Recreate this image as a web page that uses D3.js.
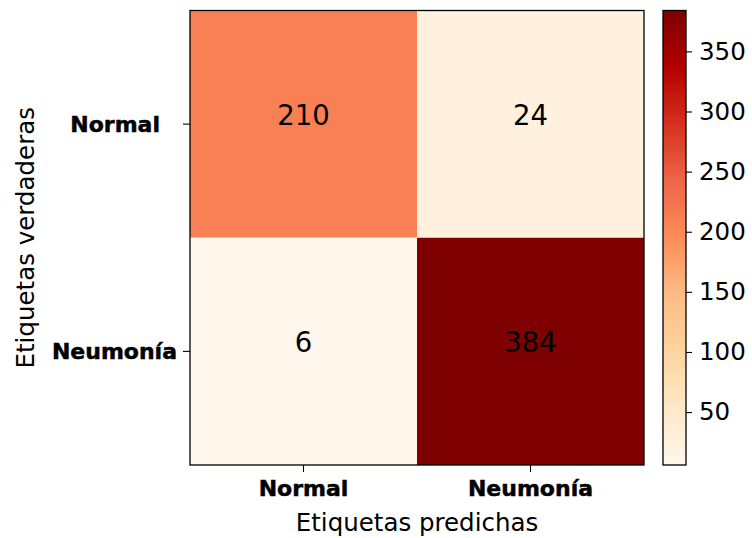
<!DOCTYPE html>
<html>
<head>
<meta charset="utf-8">
<script src="https://cdn.jsdelivr.net/npm/d3@7"></script>
<style>
  body { margin: 0; background: #fff; }
  text { font-family: "DejaVu Sans", sans-serif; fill: #000; }
</style>
</head>
<body>
<svg id="chart" width="752" height="538"></svg>
<script>
// Confusion matrix: rows = true class, columns = predicted class
const trueLabels = ["Normal", "Neumonía"];
const predLabels = ["Normal", "Neumonía"];
const counts = [
  [210, 24],
  [6, 384]
];
const colorbarTicks = [50, 100, 150, 200, 250, 300, 350];
// OrRd colour ramp (9 steps)
const orrd = ["#fff7ec", "#fee8c8", "#fdd49e", "#fdbb84", "#fc8d59",
              "#ef6548", "#d7301f", "#b30000", "#7f0000"];

const svg = d3.select("#chart");

const plot = { left: 190, right: 644, top: 10.5, bottom: 465 };
const bar = { left: 663, right: 686 };

const flat = counts.flat();
const vmin = d3.min(flat), vmax = d3.max(flat);

const color = d3.scaleLinear()
  .domain(orrd.map((_, i) => vmin + i * (vmax - vmin) / (orrd.length - 1)))
  .range(orrd)
  .interpolate(d3.interpolateRgb);

const x = d3.scaleBand().domain(predLabels).range([plot.left, plot.right]);
const y = d3.scaleBand().domain(trueLabels).range([plot.top, plot.bottom]);

const cells = [];
trueLabels.forEach((t, i) => predLabels.forEach((p, j) => cells.push({ t, p, v: counts[i][j] })));

// heatmap cells
svg.append("g").selectAll("rect").data(cells).join("rect")
  .attr("x", d => x(d.p))
  .attr("y", d => y(d.t))
  .attr("width", x.bandwidth())
  .attr("height", y.bandwidth())
  .attr("fill", d => color(d.v));

// cell values
svg.append("g").selectAll("text").data(cells).join("text")
  .attr("x", d => x(d.p) + x.bandwidth() / 2)
  .attr("y", d => y(d.t) + y.bandwidth() / 2 + 0.5)
  .attr("text-anchor", "middle")
  .style("font-size", "27.5px")
  .text(d => d.v);

// frame
svg.append("rect")
  .attr("x", plot.left).attr("y", plot.top)
  .attr("width", plot.right - plot.left).attr("height", plot.bottom - plot.top)
  .attr("fill", "none").attr("stroke", "#000").attr("stroke-width", 1.3);

// axes
const xAxis = svg.append("g")
  .attr("transform", `translate(0,${plot.bottom})`)
  .call(d3.axisBottom(x).tickSize(7).tickPadding(8));
const yAxis = svg.append("g")
  .attr("transform", `translate(${plot.left},0)`)
  .call(d3.axisLeft(y).tickSize(7).tickPadding(6));

[xAxis, yAxis].forEach(a => {
  a.select(".domain").remove();
  a.selectAll(".tick line").attr("stroke", "#000").attr("stroke-width", 1.1);
  a.selectAll(".tick text")
    .style("font-size", "22px")
    .style("font-weight", "bold")
    .attr("fill", "#000")
    .attr("stroke", "#000")
    .attr("stroke-width", 0.5);
});
yAxis.selectAll(".tick text").attr("dy", "0.36em");
yAxis.selectAll(".tick").filter(d => d === "Normal").select("text").attr("dx", -17);

// axis titles
svg.append("text")
  .attr("x", (plot.left + plot.right) / 2)
  .attr("y", 531)
  .attr("text-anchor", "middle")
  .style("font-size", "24.5px")
  .text("Etiquetas predichas");

svg.append("text")
  .attr("transform", `translate(34,${(plot.top + plot.bottom) / 2}) rotate(-90)`)
  .attr("text-anchor", "middle")
  .style("font-size", "24.5px")
  .text("Etiquetas verdaderas");

// colour bar
const defs = svg.append("defs");
const grad = defs.append("linearGradient")
  .attr("id", "cbar-grad")
  .attr("x1", 0).attr("y1", 1).attr("x2", 0).attr("y2", 0);
grad.selectAll("stop").data(orrd).join("stop")
  .attr("offset", (_, i) => i / (orrd.length - 1))
  .attr("stop-color", d => d);

const cy = d3.scaleLinear().domain([vmin, vmax]).range([plot.bottom, plot.top]);

svg.append("rect")
  .attr("x", bar.left).attr("y", plot.top)
  .attr("width", bar.right - bar.left).attr("height", plot.bottom - plot.top)
  .attr("fill", "url(#cbar-grad)")
  .attr("stroke", "#000").attr("stroke-width", 1.3);

const cAxis = svg.append("g")
  .attr("transform", `translate(${bar.right},0)`)
  .call(d3.axisRight(cy).tickValues(colorbarTicks).tickSize(6).tickPadding(7));
cAxis.select(".domain").remove();
cAxis.selectAll(".tick line").attr("stroke", "#000").attr("stroke-width", 1.1);
cAxis.selectAll(".tick text").style("font-size", "24.5px").attr("fill", "#000");
</script>
</body>
</html>
